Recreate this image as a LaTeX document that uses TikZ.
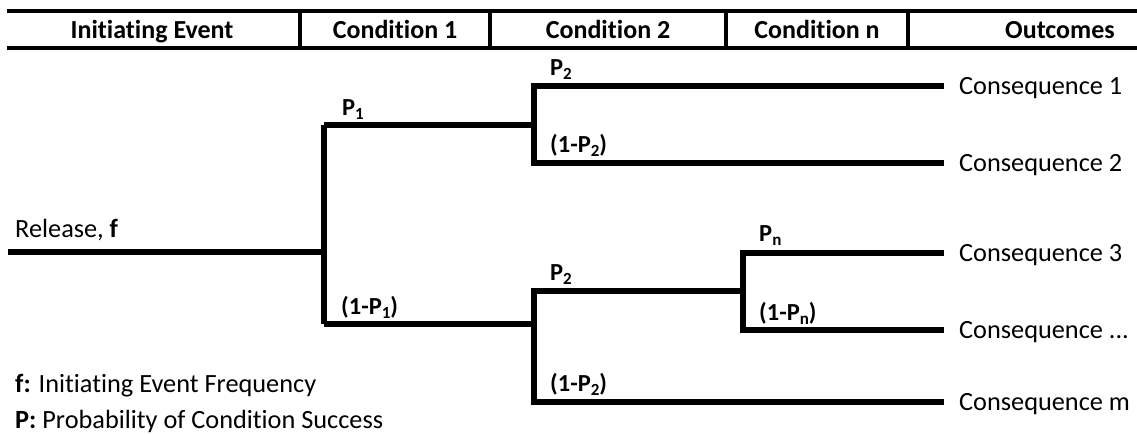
\documentclass[tikz,border=0pt]{standalone}
\usepackage{fontspec}
\setmainfont{Carlito}[Ligatures={NoCommon}]
\newcommand{\subx}[1]{\raisebox{-0.35ex}{\fontsize{17}{17}\selectfont #1}}
\begin{document}
\begin{tikzpicture}[x=1pt,y=-1pt,
  hdr/.style={line width=4pt},
  tree/.style={line width=5.4pt, line join=miter},
  htext/.style={anchor=base, inner sep=0pt, font=\fontsize{26}{28}\selectfont\bfseries},
  plabel/.style={anchor=base west, inner sep=0pt, font=\fontsize{24.5}{26}\selectfont\bfseries},
  cons/.style={anchor=base west, inner sep=0pt, font=\fontsize{26.3}{28}\selectfont},
  legend/.style={anchor=base west, inner sep=0pt, font=\fontsize{26.3}{28}\selectfont}]
\useasboundingbox (0,0) rectangle (1137,434);
% header
\coordinate (htl) at (7,11); \coordinate (htr) at (1137,11);
\coordinate (hbl) at (7,48); \coordinate (hbr) at (1137,48);
\draw[hdr] (htl) -- (htr);
\draw[hdr] (hbl) -- (hbr);
\foreach \xx in {300,490,726,908} \draw[hdr] (\xx,11) -- (\xx,48);
\node[htext] (h1) at (152,38.5) {Initiating Event};
\node[htext] (h2) at (395,38.5) {Condition 1};
\node[htext] (h3) at (608,38.5) {Condition 2};
\node[htext] (h4) at (817,38.5) {Condition n};
\node[htext] (h5) at (1060,38.5) {Outcomes};
% tree coordinates
\coordinate (r0) at (8,252);
\coordinate (b1) at (324,252);
\coordinate (b1u) at (324,125);
\coordinate (b1d) at (324,324);
\coordinate (b2) at (534,125);
\coordinate (b2u) at (534,86);
\coordinate (b2d) at (534,163);
\coordinate (b3) at (534,324);
\coordinate (b3u) at (534,291);
\coordinate (b3d) at (534,402);
\coordinate (b4) at (743,291);
\coordinate (b4u) at (743,253);
\coordinate (b4d) at (743,330);
\coordinate (e1) at (944,86);
\coordinate (e2) at (944,163);
\coordinate (e3) at (944,253);
\coordinate (e4) at (944,330);
\coordinate (e5) at (944,402);
\draw[tree] (r0) -- (b1);
\draw[tree] (b1u) -- (b1d);
\draw[tree] (b1u) -- (b2);
\draw[tree] (b1d) -- (b3);
\draw[tree] (e1) -- (b2u) -- (b2d) -- (e2);
\draw[tree] (b3d -| e5) -- (b3d) -- (b3u) -- (b4);
\draw[tree] (e3) -- (b4u) -- (b4d) -- (e4);
% labels
\node[plabel] (p1) at (342,115) {P\subx{1}};
\node[plabel] (q1) at (341,314) {(1-P\subx{1})};
\node[plabel] (p2a) at (550,75) {P\subx{2}};
\node[plabel] (q2a) at (550,152) {(1-P\subx{2})};
\node[plabel] (p2b) at (550,280) {P\subx{2}};
\node[plabel] (q2b) at (550,391) {(1-P\subx{2})};
\node[plabel] (pn) at (759,241) {P\subx{n}};
\node[plabel] (qn) at (759,320) {(1-P\subx{n})};
\node[cons] (c1) at (959,94) {Consequence 1};
\node[cons] (c2) at (959,171) {Consequence 2};
\node[cons] (c3) at (959,261) {Consequence 3};
\node[cons] (c4) at (959,338) {Consequence ...};
\node[cons] (c5) at (959,410) {Consequence m};
\node[legend] (rel) at (15,237) {Release, \textbf{f}};
\node[legend] (lf) at (15,392) {\textbf{f:} Initiating Event Frequency};
\node[legend] (lp) at (15,428) {\textbf{P:} Probability of Condition Success};
\end{tikzpicture}
\end{document}
